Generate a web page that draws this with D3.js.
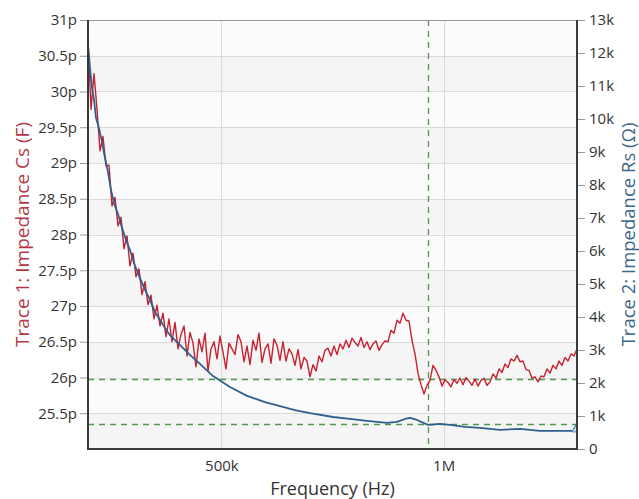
<!DOCTYPE html>
<html>
<head>
<meta charset="utf-8">
<script src="https://cdn.jsdelivr.net/npm/d3@7"></script>
<style>
	body { margin: 0; background: #fff; }
	#graphicContainer { width: 639px; height: 499px; }
	text { font-family: "Open Sans", "Noto Sans", sans-serif; }
</style>
</head>
<body>
<div id="graphicContainer"></div>
<script>

// sweep settings (Hz) - trace 1 is sampled evenly across the sweep

var sweepStartHz = 200e3;
var sweepStopHz = 1.3e6;

// trace 1: impedance Cs, in pF

var csValues = [
30.72, 29.75, 30.25, 29.75, 29.17, 29.37, 28.96, 28.97, 28.40, 28.52,
28.12, 28.24, 27.80, 27.98, 27.56, 27.74, 27.41, 27.52, 27.16, 27.34,
27.02, 27.15, 26.82, 27.01, 26.72, 26.90, 26.57, 26.82, 26.50, 26.77,
26.40, 26.60, 26.72, 26.30, 26.63, 26.48, 26.15, 26.54, 26.36, 26.62,
26.09, 26.40, 26.50, 26.26, 26.58, 26.35, 26.12, 26.48, 26.40, 26.32,
26.60, 26.50, 26.22, 26.44, 26.18, 26.52, 26.38, 26.62, 26.21, 26.40,
26.47, 26.20, 26.54, 26.45, 26.24, 26.50, 26.23, 26.40, 26.33, 26.17,
26.39, 26.12, 26.28, 26.23, 26.01, 26.18, 26.09, 26.30, 26.22, 26.38,
26.41, 26.30, 26.44, 26.32, 26.47, 26.40, 26.52, 26.42, 26.55, 26.49,
26.44, 26.56, 26.42, 26.50, 26.39, 26.47, 26.51, 26.38, 26.46, 26.51,
26.50, 26.66, 26.62, 26.80, 26.76, 26.90, 26.80, 26.79, 26.52, 26.33,
26.06, 25.90, 25.77, 25.89, 25.96, 26.17, 26.10, 26.01, 25.88, 25.97,
25.93, 25.87, 25.97, 25.92, 25.99, 25.90, 26.00, 25.95, 25.89, 25.98,
25.88, 25.96, 25.99, 25.89, 25.94, 26.05, 25.99, 26.12, 26.07, 26.19,
26.14, 26.26, 26.23, 26.31, 26.22, 26.23, 26.11, 26.10, 25.99, 26.01,
25.94, 26.02, 26.01, 26.12, 26.06, 26.17, 26.12, 26.23, 26.17, 26.28,
26.23, 26.33, 26.30, 26.40
];

// trace 2: impedance Rs, frequency in kHz and value in kOhm

var rsFreqKHz = [
200, 204.5, 209, 213.5, 218, 224.7, 231.5, 238.2, 245, 251.7,
258.5, 267.5, 276.5, 285.5, 294.5, 305.7, 317, 328.2, 339.5, 350.7,
362, 373.2, 384.5, 395.7, 407, 429.4, 451.9, 481.2, 519.4, 557.7,
598.2, 631.9, 665.6, 699.4, 751.1, 789.4, 827.6, 872.6, 895.1, 913.1,
924.3, 940.1, 964.8, 991.8, 1014.3, 1048.1, 1081.8, 1126.8, 1171.8, 1216.8,
1268.5, 1291, 1300
];

var rsValues = [
12.24, 11.55, 10.94, 10.58, 10.03, 9.73, 9.30, 8.82, 8.39, 7.85,
7.45, 7.12, 6.70, 6.33, 6.03, 5.55, 5.18, 4.82, 4.52, 4.15,
3.91, 3.67, 3.45, 3.30, 3.15, 2.85, 2.58, 2.21, 1.88, 1.61,
1.42, 1.30, 1.18, 1.09, 0.97, 0.91, 0.85, 0.79, 0.82, 0.91,
0.94, 0.88, 0.73, 0.76, 0.73, 0.67, 0.64, 0.58, 0.61, 0.55,
0.55, 0.55, 0.76
];

// cursor readout

var cursorFreqKHz = 965;
var cursorCs = 26.0;
var cursorRs = 0.76;

// ticks

var csTicks = [25.5, 26, 26.5, 27, 27.5, 28, 28.5, 29, 29.5, 30, 30.5, 31];
var csBands = [25, 25.5, 26, 26.5, 27, 27.5, 28, 28.5, 29, 29.5, 30, 30.5];
var rsTicks = [0, 1, 2, 3, 4, 5, 6, 7, 8, 9, 10, 11, 12, 13];
var freqTicks = [500e3, 1e6];
var freqTickLabels = ["500k", "1M"];

function draw_chart() {

		var width = 639;
		var height = 499;
		var margin = {top: 20, right: 62, bottom: 50, left: 88};

		d3.select("#graphicContainer svg").remove();

		var svg = d3.select("#graphicContainer").append("svg")
			.attr("width", width)
			.attr("height", height);

		// scales

		var x = d3.scaleLinear()
			.domain([sweepStartHz, sweepStopHz])
			.range([margin.left, width - margin.right]);

		var yCs = d3.scaleLinear()
			.domain([25, 31])
			.range([height - margin.bottom, margin.top]);

		var yRs = d3.scaleLinear()
			.domain([0, 13])
			.range([height - margin.bottom, margin.top]);

		var plotW = x.range()[1] - x.range()[0];

		// alternating background bands

		svg.append("g")
			.selectAll("rect")
			.data(csBands)
			.enter()
			.append("rect")
			.attr("x", margin.left)
			.attr("width", plotW)
			.attr("y", d => yCs(d + 0.5))
			.attr("height", d => yCs(d) - yCs(d + 0.5))
			.attr("fill", (d, i) => i % 2 == 0 ? "#f5f5f5" : "#fbfbfb");

		// grid lines

		svg.append("g")
			.selectAll("line")
			.data(csTicks)
			.enter()
			.append("line")
			.attr("x1", margin.left)
			.attr("x2", margin.left + plotW)
			.attr("y1", d => Math.round(yCs(d)) + 0.5)
			.attr("y2", d => Math.round(yCs(d)) + 0.5)
			.attr("stroke", "#dadada")
			.attr("stroke-width", 1);

		svg.append("g")
			.selectAll("line")
			.data(freqTicks)
			.enter()
			.append("line")
			.attr("x1", d => Math.round(x(d)) + 0.5)
			.attr("x2", d => Math.round(x(d)) + 0.5)
			.attr("y1", margin.top)
			.attr("y2", height - margin.bottom)
			.attr("stroke", "#dadada")
			.attr("stroke-width", 1);

		// cursor lines

		var cursor = svg.append("g")
			.attr("stroke", "#4f9a4a")
			.attr("stroke-width", 1.3)
			.attr("stroke-dasharray", "6,5");

		cursor.append("line")
			.attr("x1", Math.round(x(cursorFreqKHz * 1000)) + 0.5)
			.attr("x2", Math.round(x(cursorFreqKHz * 1000)) + 0.5)
			.attr("y1", margin.top)
			.attr("y2", height - margin.bottom);

		cursor.append("line")
			.attr("x1", margin.left)
			.attr("x2", margin.left + plotW)
			.attr("y1", Math.round(yCs(cursorCs)) + 1.5)
			.attr("y2", Math.round(yCs(cursorCs)) + 1.5);

		cursor.append("line")
			.attr("x1", margin.left)
			.attr("x2", margin.left + plotW)
			.attr("y1", Math.round(yRs(cursorRs)) + 0.5)
			.attr("y2", Math.round(yRs(cursorRs)) + 0.5);

		// traces

		var step = (sweepStopHz - sweepStartHz) / (csValues.length - 1);

		var csLine = d3.line()
			.x((d, i) => x(sweepStartHz + i * step))
			.y(d => yCs(d));

		var rsLine = d3.line()
			.x((d, i) => x(rsFreqKHz[i] * 1000))
			.y(d => yRs(d));

		svg.append("path")
			.datum(csValues)
			.attr("d", csLine)
			.attr("fill", "none")
			.attr("stroke", "#c8202f")
			.attr("stroke-width", 1.4)
			.attr("stroke-linejoin", "round");

		svg.append("path")
			.datum(rsValues)
			.attr("d", rsLine)
			.attr("fill", "none")
			.attr("stroke", "#2f5f8e")
			.attr("stroke-width", 1.8)
			.attr("stroke-linejoin", "round");

		// end marker on trace 2

		var lastX = x(rsFreqKHz[rsFreqKHz.length - 1] * 1000);
		var lastY = yRs(rsValues[rsValues.length - 1]);

		svg.append("path")
			.attr("d", `M${lastX},${lastY} L${lastX - 5},${lastY + 8} L${lastX},${lastY + 8} Z`)
			.attr("fill", "#cfe0ef")
			.attr("stroke", "#5a8db8")
			.attr("stroke-width", 1);

		// frame

		svg.append("line")
			.attr("x1", margin.left)
			.attr("x2", margin.left + plotW)
			.attr("y1", margin.top + 0.5)
			.attr("y2", margin.top + 0.5)
			.attr("stroke", "#9a9a9a")
			.attr("stroke-width", 1);

		var axisStroke = "#3a3a3a";

		svg.append("line")
			.attr("x1", margin.left)
			.attr("x2", margin.left)
			.attr("y1", margin.top)
			.attr("y2", height - margin.bottom + 1)
			.attr("stroke", axisStroke)
			.attr("stroke-width", 2);

		svg.append("line")
			.attr("x1", margin.left + plotW)
			.attr("x2", margin.left + plotW)
			.attr("y1", margin.top)
			.attr("y2", height - margin.bottom + 1)
			.attr("stroke", axisStroke)
			.attr("stroke-width", 2);

		svg.append("line")
			.attr("x1", margin.left)
			.attr("x2", margin.left + plotW)
			.attr("y1", height - margin.bottom)
			.attr("y2", height - margin.bottom)
			.attr("stroke", axisStroke)
			.attr("stroke-width", 2);

		// axes

		var leftAxis = svg.append("g")
			.attr("transform", `translate(${margin.left - 1},0)`)
			.call(d3.axisLeft(yCs).tickValues(csTicks).tickSize(7).tickPadding(3)
				.tickFormat(d => d + "p"));

		var rightAxis = svg.append("g")
			.attr("transform", `translate(${margin.left + plotW + 1},0)`)
			.call(d3.axisRight(yRs).tickValues(rsTicks).tickSize(7).tickPadding(4)
				.tickFormat(d => d == 0 ? "0" : d + "k"));

		var bottomAxis = svg.append("g")
			.attr("transform", `translate(0,${height - margin.bottom})`)
			.call(d3.axisBottom(x).tickValues(freqTicks).tickSize(0).tickPadding(11)
				.tickFormat((d, i) => freqTickLabels[i]));

		[leftAxis, rightAxis, bottomAxis].forEach(function(g) {
			g.select(".domain").remove();
			g.selectAll(".tick line").attr("stroke", "#9a9a9a");
			g.selectAll(".tick text")
				.attr("fill", "#333")
				.attr("font-size", 15)
				.attr("font-family", "'Open Sans', sans-serif");
		});

		// axis titles

		svg.append("text")
			.attr("transform", `translate(22,${(margin.top + height - margin.bottom) / 2}) rotate(-90)`)
			.attr("text-anchor", "middle")
			.attr("dominant-baseline", "central")
			.attr("font-size", 19)
			.attr("fill", "#b23a48")
			.text("Trace 1: Impedance Cs (F)");

		svg.append("text")
			.attr("transform", `translate(627,${(margin.top + height - margin.bottom) / 2}) rotate(-90)`)
			.attr("text-anchor", "middle")
			.attr("dominant-baseline", "central")
			.attr("font-size", 18.5)
			.attr("fill", "#3c6a8c")
			.text("Trace 2: Impedance Rs (Ω)");

		svg.append("text")
			.attr("x", (margin.left + margin.left + plotW) / 2)
			.attr("y", 488)
			.attr("text-anchor", "middle")
			.attr("dominant-baseline", "central")
			.attr("font-size", 18)
			.attr("fill", "#333")
			.text("Frequency (Hz)");
}

draw_chart();

</script>
</body>
</html>
